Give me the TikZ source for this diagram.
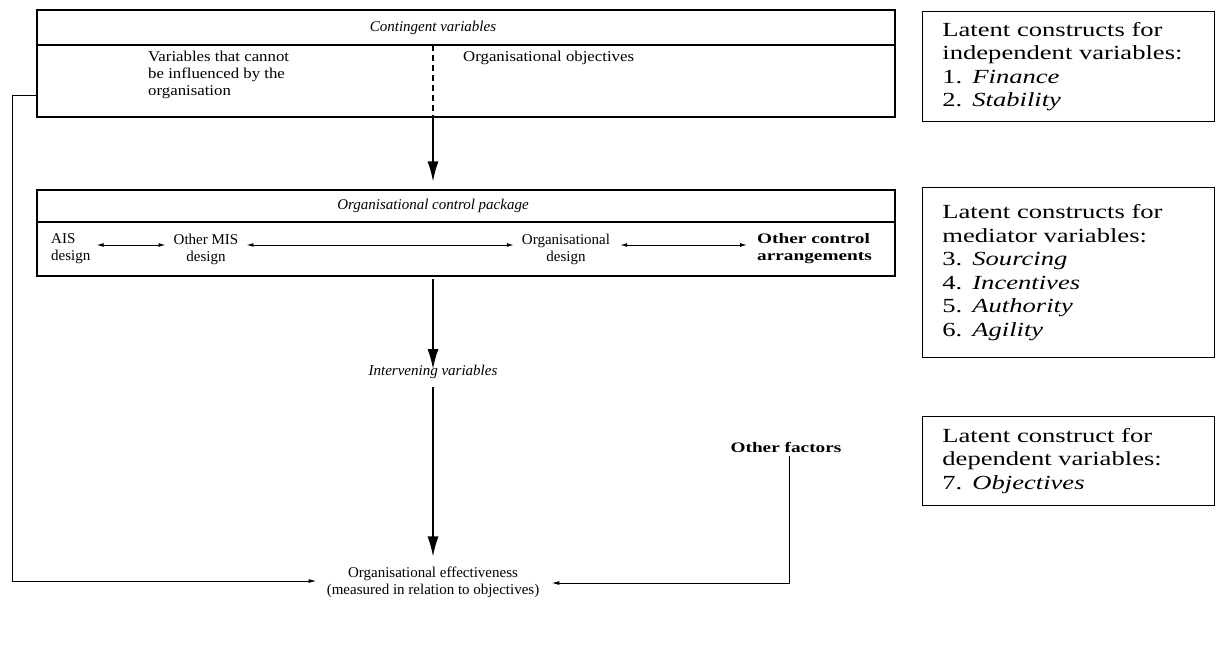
\documentclass[tikz,border=0pt]{standalone}
\usepackage{fontspec}
\setmainfont{Liberation Serif}
\newfontfamily\rfont[FakeStretch=1.33]{Liberation Serif}
\newfontfamily\wfont[FakeStretch=1.33]{Liberation Serif Bold}
\newfontfamily\vfont[FakeStretch=1.12]{Liberation Serif}
\usetikzlibrary{arrows.meta}
\tikzset{
  frame/.style={draw, line width=1.1pt, inner sep=0pt},
  lbl/.style={inner sep=0pt, align=center, font=\fontsize{15}{17}\selectfont},
  lbll/.style={inner sep=0pt, align=left, font=\vfont\fontsize{15}{17}\selectfont},
  wlbl/.style={inner sep=0pt, align=left, font=\wfont\fontsize{14.5}{17}\selectfont},
  hdr/.style={inner sep=0pt, font=\fontsize{15}{17}\selectfont\itshape},
  bigarrow/.style={line width=1.4pt, -{Latex[length=20pt,width=11pt]}},
  dblarrow/.style={line width=1pt, {Latex[length=7pt,width=4pt]}-{Latex[length=7pt,width=4pt]}},
  smallarrow/.style={line width=1pt, -{Latex[length=8pt,width=4pt]}},
  plain/.style={line width=1.1pt},
  rbox/.style={draw, line width=0.8pt, anchor=north west, minimum width=292pt,
    text width=252pt, inner xsep=20pt, inner ysep=0pt, align=left,
    font=\rfont\fontsize{20}{23.5}\selectfont}
}
\begin{document}
\begin{tikzpicture}[x=1pt,y=-1pt]
\useasboundingbox[fill=white] (0,0) rectangle (1216,666);

% ---- top box
\node[frame, minimum width=858pt, minimum height=107pt] (cbox) at (466,63.5) {};
\draw[plain] (37,45) -- (895,45);
\node[hdr] (ctitle) at (433,28) {Contingent variables};
\draw[plain, dashed, dash pattern=on 6pt off 4pt] (433,45) -- (433,117);
\node[lbll, anchor=north west] (cvar) at (148,51) {Variables that cannot\\be influenced by the\\organisation};
\node[lbl, anchor=north west, font=\vfont\fontsize{15}{17}\selectfont] (cobj) at (463,51) {Organisational objectives};

% ---- second box
\node[frame, minimum width=858pt, minimum height=86pt] (pbox) at (466,233) {};
\draw[plain] (37,222) -- (895,222);
\node[hdr] (ptitle) at (433,206) {Organisational control package};
\node[lbl, align=left, anchor=west] (ais) at (51,249) {AIS\\design};
\node[lbl] (mis) at (206,249) {Other MIS\\design};
\node[lbl] (odes) at (566,249) {Organisational\\design};
\node[wlbl, anchor=west] (oca) at (757,249) {Other control\\arrangements};
\draw[dblarrow] ([xshift=6pt,yshift=4pt]ais.east) -- ([xshift=-8pt,yshift=4pt]mis.west);
\draw[dblarrow] ([xshift=8pt,yshift=4pt]mis.east) -- ([xshift=-8pt,yshift=4pt]odes.west);
\draw[dblarrow] ([xshift=10pt,yshift=4pt]odes.east) -- ([xshift=-10pt,yshift=4pt]oca.west);

% ---- vertical flow
\draw[bigarrow, shorten >=8pt] (cbox.south -| ctitle) -- (pbox.north -| ctitle);
\node[hdr] (inter) at (433,372) {Intervening variables};
\draw[bigarrow, shorten <=2pt] (pbox.south -| ctitle) -- ([yshift=-4pt]inter.north);
\node[lbl] (eff) at (433,582) {Organisational effectiveness\\(measured in relation to objectives)};
\draw[bigarrow, shorten <=8pt, shorten >=10pt] (inter.south) -- (eff.north);

% ---- other factors
\node[wlbl] (other) at (786,447) {Other factors};
\coordinate (ocorner) at (789,583);
\draw[smallarrow] ([xshift=3pt,yshift=-4pt]other.south) -- (ocorner) -- ([xshift=12pt]eff.east |- ocorner);

% ---- feedback line
\coordinate (fb1) at (12,96);
\coordinate (fb2) at (12,581);
\draw[smallarrow] (cbox.west |- fb1) -- (fb1) -- (fb2) -- ([xshift=-10pt]eff.west |- fb2);

% ---- right boxes
\node[rbox, minimum height=110pt] (r1) at (922,11) {Latent constructs for\\independent variables:\\1. \textit{Finance}\\2. \textit{Stability}};
\node[rbox, minimum height=170pt] (r2) at (922,187) {Latent constructs for\\mediator variables:\\3. \textit{Sourcing}\\4. \textit{Incentives}\\5. \textit{Authority}\\6. \textit{Agility}};
\node[rbox, minimum height=89pt] (r3) at (922,416) {Latent construct for\\dependent variables:\\7. \textit{Objectives}};
\end{tikzpicture}
\end{document}
